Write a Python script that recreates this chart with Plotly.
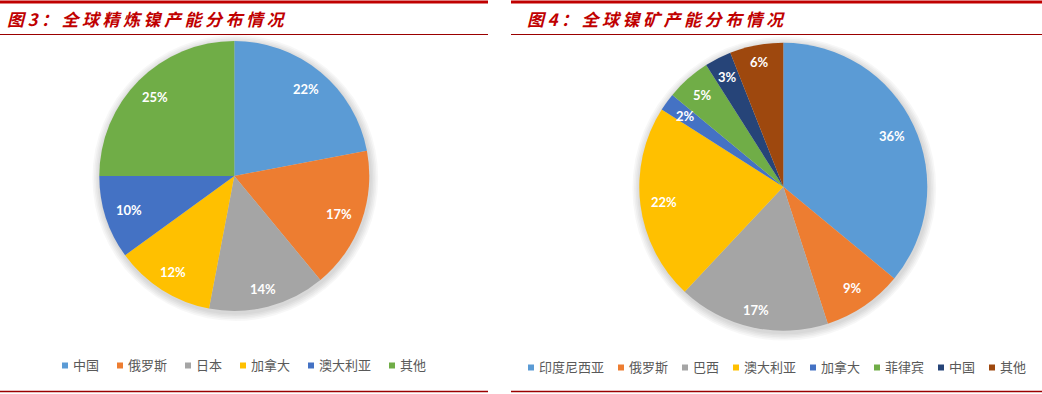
import math
import plotly.graph_objects as go

W, H = 1042, 394

left_labels = ["中国", "俄罗斯", "日本", "加拿大", "澳大利亚", "其他"]
left_values = [22, 17, 14, 12, 10, 25]
left_colors = ["#5B9BD5", "#ED7D31", "#A5A5A5", "#FFC000", "#4472C4", "#70AD47"]

right_labels = ["印度尼西亚", "俄罗斯", "巴西", "澳大利亚", "加拿大", "菲律宾", "中国", "其他"]
right_values = [36, 9, 17, 22, 2, 5, 3, 6]
right_colors = ["#5B9BD5", "#ED7D31", "#A5A5A5", "#FFC000", "#4472C4", "#70AD47", "#264478", "#9E480E"]

title_left = "图3：全球精炼镍产能分布情况"
title_right = "图4：全球镍矿产能分布情况"

FONT = "Noto Sans CJK SC"
LABEL_FONT = "Lato"


def px_x(x):
    return x / W


def px_y(y):
    return 1 - y / H


# layout of each panel: pie centre / radius, legend centre, panel extent
panels = [
    dict(labels=left_labels, values=left_values, colors=left_colors, title=title_left,
         cx=234.3, cy=176.0, r=135, leg_cx=243, leg_cy=364, leg_gap=20, x0=0, x1=488, tx=5),
    dict(labels=right_labels, values=right_values, colors=right_colors, title=title_right,
         cx=783.3, cy=186.7, r=144, leg_cx=776, leg_cy=366, leg_gap=16, x0=511, x1=1042, tx=525),
]

fig = go.Figure()
shapes = []
annotations = []

for p in panels:
    cx, cy, r = p["cx"], p["cy"], p["r"]
    # soft shadow
    for i in range(5):
        g = 1.5 + i * 1.6
        shapes.append(dict(type="circle", xref="paper", yref="paper", layer="below",
                           x0=px_x(cx - r - g + 1), x1=px_x(cx + r + g + 1),
                           y0=px_y(cy + r + g + 2), y1=px_y(cy - r - g + 2),
                           fillcolor="rgba(0,0,0,0.03)", line=dict(width=0)))
    fig.add_trace(go.Pie(
        labels=p["labels"], values=p["values"], sort=False, direction="clockwise",
        rotation=0, marker=dict(colors=p["colors"], line=dict(color="white", width=0)),
        textinfo="none", showlegend=False, hoverinfo="label+percent",
        domain=dict(x=[px_x(cx - r), px_x(cx + r)], y=[px_y(cy + r), px_y(cy - r)]),
    ))
    # data labels, placed along each slice bisector near the rim (Excel style)
    total = sum(p["values"])
    cum = 0
    for v in p["values"]:
        mid = (cum + v / 2) / total * 2 * math.pi
        cum += v
        s, c = math.sin(mid), -math.cos(mid)
        d = r - 10 - (abs(s) * 13 + abs(c) * 5)
        annotations.append(dict(
            text=f"{v}%", x=px_x(cx + d * s), y=px_y(cy + d * c), xref="paper", yref="paper",
            xanchor="center", yanchor="middle", showarrow=False,
            font=dict(family=LABEL_FONT, size=13, color="white", weight="bold")))
    # rules
    shapes.append(dict(type="line", xref="paper", yref="paper", x0=px_x(p["x0"]), x1=px_x(p["x1"]),
                       y0=px_y(2), y1=px_y(2), line=dict(color="#C00000", width=3)))
    shapes.append(dict(type="line", xref="paper", yref="paper", x0=px_x(p["x0"]), x1=px_x(p["x1"]),
                       y0=px_y(34.5), y1=px_y(34.5), line=dict(color="#9B0000", width=1)))
    shapes.append(dict(type="line", xref="paper", yref="paper", x0=px_x(p["x0"]), x1=px_x(p["x1"]),
                       y0=px_y(391.5), y1=px_y(391.5), line=dict(color="#9B0000", width=1.5)))
    # title
    annotations.append(dict(
        text=f"<span style='letter-spacing:3.5px'>{p['title']}</span>",
        x=px_x(p["tx"]), y=px_y(19), xref="paper", yref="paper",
        xanchor="left", yanchor="middle", showarrow=False,
        font=dict(family=FONT, size=17, color="#C00000", weight="bold", style="italic")))
    # legend (custom, Excel style: small square + label)
    sq, gap_t, ch = 6, 3, 13
    gap_i = p["leg_gap"]
    widths = [sq + gap_t + len(lab) * ch for lab in p["labels"]]
    total_w = sum(widths) + gap_i * (len(widths) - 1)
    x = p["leg_cx"] - total_w / 2
    ly = p["leg_cy"]
    for lab, col, w in zip(p["labels"], p["colors"], widths):
        shapes.append(dict(type="rect", xref="paper", yref="paper",
                           x0=px_x(x), x1=px_x(x + sq), y0=px_y(ly + 1.5 + sq / 2), y1=px_y(ly + 1.5 - sq / 2),
                           fillcolor=col, line=dict(width=0)))
        annotations.append(dict(text=lab, x=px_x(x + sq + gap_t), y=px_y(ly), xref="paper", yref="paper",
                                xanchor="left", yanchor="middle", showarrow=False,
                                font=dict(family=FONT, size=13, color="#595959")))
        x += w + gap_i

fig.update_layout(
    width=W, height=H, margin=dict(l=0, r=0, t=0, b=0),
    paper_bgcolor="white", plot_bgcolor="white",
    shapes=shapes, annotations=annotations, showlegend=False,
)

fig.write_html("out.html", config={"displayModeBar": False},
               post_script="document.body.style.margin='0';")
